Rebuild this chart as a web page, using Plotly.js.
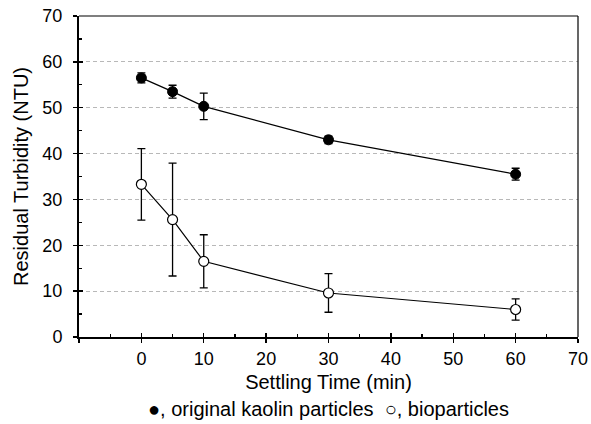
<!DOCTYPE html>
<html><head><meta charset="utf-8">
<script src="https://cdn.plot.ly/plotly-3.0.1.min.js"></script>
<style>html,body{margin:0;padding:0;background:#fff}#c{width:591px;height:424px}</style>
</head><body><div id="c"></div>
<script>
const times = [0, 5, 10, 30, 60];
const kaolinMean = [56.5, 53.5, 50.3, 43.0, 35.5];
const kaolinErr = [1.1, 1.4, 2.9, 0.8, 1.3];
const bioMean = [33.3, 25.6, 16.5, 9.6, 6.0];
const bioErr = [7.8, 12.3, 5.8, 4.2, 2.3];
const xTicks = [-10, 0, 10, 20, 30, 40, 50, 60, 70];
const xTickText = ['', '0', '10', '20', '30', '40', '50', '60', '70'];
const yTicks = [0, 10, 20, 30, 40, 50, 60, 70];

const FONT = '"Liberation Sans", Arial, Helvetica, sans-serif';
const errStyle = {type: 'data', visible: true, color: '#000', thickness: 1.3, width: 4};

const data = [
  {x: times, y: bioMean, type: 'scatter', mode: 'lines+markers',
   error_y: Object.assign({array: bioErr}, errStyle),
   line: {color: '#000', width: 1.2},
   marker: {symbol: 'circle', size: 10, color: '#fff', line: {color: '#000', width: 1.2}},
   showlegend: false, cliponaxis: false},
  {x: times, y: kaolinMean, type: 'scatter', mode: 'lines+markers',
   error_y: Object.assign({array: kaolinErr}, errStyle),
   line: {color: '#000', width: 1.2},
   marker: {symbol: 'circle', size: 10, color: '#000', line: {color: '#000', width: 1}},
   showlegend: false, cliponaxis: false},
  {x: [], y: [], xaxis: 'x2', yaxis: 'y2', type: 'scatter', showlegend: false}
];

const layout = {
  width: 591, height: 424,
  margin: {l: 79, r: 13, t: 16, b: 87},
  paper_bgcolor: '#fff', plot_bgcolor: '#fff',
  font: {family: FONT, size: 18, color: '#000'},
  xaxis: {range: [-10, 70], tickvals: xTicks, ticktext: xTickText,
    ticks: 'outside', ticklen: 4, tickwidth: 1.3, tickcolor: '#000',
    showline: true, linewidth: 2, linecolor: '#000', mirror: false,
    showgrid: false, zeroline: false,
    tickfont: {family: FONT, size: 18},
    title: {text: 'Settling Time (min)', font: {family: FONT, size: 20}, standoff: 7}},
  yaxis: {range: [0, 70], tickvals: yTicks,
    ticks: 'outside', ticklen: 4, tickwidth: 1.3, tickcolor: '#000',
    ticklabelstandoff: 7,
    showline: true, linewidth: 2, linecolor: '#000', mirror: false,
    showgrid: true, gridcolor: '#b8b8b8', griddash: '4px,3px', gridwidth: 1,
    zeroline: false,
    tickfont: {family: FONT, size: 18},
    title: {text: 'Residual Turbidity (NTU)', font: {family: FONT, size: 20}, standoff: 8}},
  xaxis2: {range: [-10, 70], overlaying: 'x', anchor: 'y2', side: 'bottom',
    tickvals: xTicks, showticklabels: false, ticks: 'inside', ticklen: 4, tickwidth: 1.3, tickcolor: '#000',
    minor: {tickvals: [-5, 5, 15, 25, 35, 45, 55, 65], ticks: 'inside', ticklen: 3, tickwidth: 1.2, tickcolor: '#000'},
    showline: false, showgrid: false, zeroline: false},
  yaxis2: {range: [0, 70], overlaying: 'y', anchor: 'x2', side: 'left',
    tickvals: yTicks, showticklabels: false, ticks: 'inside', ticklen: 4, tickwidth: 1.3, tickcolor: '#000',
    minor: {tickvals: [5, 15, 25, 35, 45, 55, 65], ticks: 'inside', ticklen: 3, tickwidth: 1.2, tickcolor: '#000'},
    showline: false, showgrid: false, zeroline: false},
  shapes: [
    {type: 'line', xref: 'paper', yref: 'paper', x0: 0, x1: 1, y0: 1, y1: 1, line: {color: '#000', width: 1.2}},
    {type: 'line', xref: 'paper', yref: 'paper', x0: 1, x1: 1, y0: 0, y1: 1, line: {color: '#000', width: 1.2}}
  ],
  annotations: [
    {xref: 'paper', yref: 'paper', x: 0.5, y: 0, yshift: -59, xanchor: 'center', yanchor: 'top',
     showarrow: false, text: '●, original kaolin particles  ○, bioparticles',
     font: {family: FONT, size: 20, color: '#000'}}
  ]
};

Plotly.newPlot('c', data, layout, {displayModeBar: false, staticPlot: true});
</script>
</body></html>
